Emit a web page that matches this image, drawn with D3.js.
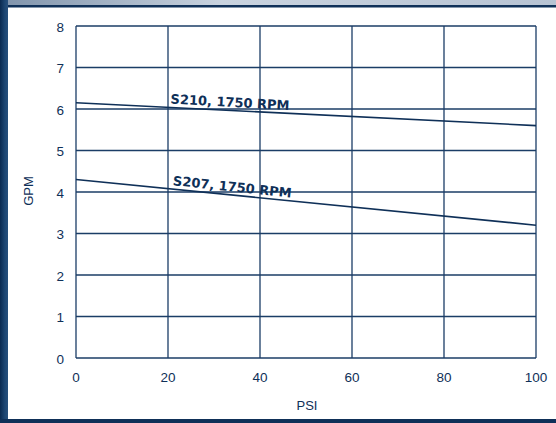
<!DOCTYPE html>
<html><head><meta charset="utf-8">
<script src="https://cdn.jsdelivr.net/npm/d3@7"></script>
<style>body{margin:0;background:#fff}svg{display:block}</style>
</head><body>
<script>
const xTicks = [0, 20, 40, 60, 80, 100];
const yTicks = [0, 1, 2, 3, 4, 5, 6, 7, 8];
const psi = [0, 100];
const s210 = [6.15, 5.6];
const s207 = [4.3, 3.2];
const seriesNames = ["S210, 1750 RPM", "S207, 1750 RPM"];
const labelAt = [20.5, 21];

const W = 556, H = 423;
const navy = "#0f3058";
const svg = d3.select("body").append("svg").attr("width", W).attr("height", H);
const defs = svg.append("defs");
const lg = defs.append("linearGradient").attr("id","lg").attr("x1","0").attr("x2","1");
lg.append("stop").attr("offset","0").attr("stop-color","#0a2a50");
lg.append("stop").attr("offset","0.6").attr("stop-color","#1d4672");
lg.append("stop").attr("offset","1").attr("stop-color","#27507c");
const tg = defs.append("linearGradient").attr("id","tg").attr("x1","0").attr("x2","1");
tg.append("stop").attr("offset","0").attr("stop-color","#7f93ab");
tg.append("stop").attr("offset","0.4").attr("stop-color","#c9d3df");
tg.append("stop").attr("offset","1").attr("stop-color","#b7c3d3");

svg.append("rect").attr("width",W).attr("height",H).attr("fill","#fff");
svg.append("rect").attr("x",0).attr("y",0).attr("width",W).attr("height",5).attr("fill","url(#tg)");
svg.append("rect").attr("x",0).attr("y",5).attr("width",W).attr("height",2.5).attr("fill",navy);
svg.append("rect").attr("x",0).attr("y",0).attr("width",8).attr("height",H).attr("fill","url(#lg)");
svg.append("rect").attr("x",0).attr("y",419).attr("width",W).attr("height",4).attr("fill",navy);

const x = d3.scaleLinear().domain([0,100]).range([76,536]);
const y = d3.scaleLinear().domain([0,8]).range([358,26]);

const grid = svg.append("g").attr("stroke","#1b3d66").attr("stroke-width",1.3).attr("fill","none");
grid.selectAll("line.h").data(yTicks).join("line").attr("class","h")
  .attr("x1",x(0)).attr("x2",x(100)).attr("y1",d=>y(d)).attr("y2",d=>y(d));
grid.selectAll("line.v").data(xTicks).join("line").attr("class","v")
  .attr("x1",d=>x(d)).attr("x2",d=>x(d)).attr("y1",y(0)).attr("y2",y(8));

const font = "'Liberation Sans', Arial, sans-serif";
svg.append("g").selectAll("text").data(yTicks).join("text")
  .attr("x",64).attr("y",d=>y(d)+5.5).attr("text-anchor","end")
  .attr("font-family",font).attr("font-size",13.5).attr("fill",navy).text(d=>d);
svg.append("g").selectAll("text").data(xTicks).join("text")
  .attr("x",d=>x(d)).attr("y",382).attr("text-anchor","middle")
  .attr("font-family",font).attr("font-size",13.5).attr("fill",navy).text(d=>d);
svg.append("text").attr("x",307).attr("y",410).attr("text-anchor","middle")
  .attr("font-family",font).attr("font-size",13).attr("fill",navy).text("PSI");
svg.append("text").attr("transform","translate(33,191) rotate(-90)").attr("text-anchor","middle")
  .attr("font-family",font).attr("font-size",13).attr("fill",navy).text("GPM");

const line = d3.line().x(d=>x(d[0])).y(d=>y(d[1]));
[s210, s207].forEach((s,i)=>{
  const pts = psi.map((p,j)=>[p,s[j]]);
  svg.append("path").attr("d",line(pts)).attr("fill","none").attr("stroke",navy).attr("stroke-width",1.6);
  const slope = (y(s[1])-y(s[0]))/(x(psi[1])-x(psi[0]));
  const ang = Math.atan(slope)*180/Math.PI + 0.3;
  const lx = x(labelAt[i]);
  const ly = y(s[0]) + slope*(lx-x(psi[0])) - 4;
  svg.append("text").attr("transform",`translate(${lx},${ly}) rotate(${ang})`)
    .attr("font-family","'DejaVu Sans', Verdana, sans-serif").attr("font-weight","bold")
    .attr("font-size",13).attr("fill",navy)
    .text(seriesNames[i]);
});
</script>
</body></html>
